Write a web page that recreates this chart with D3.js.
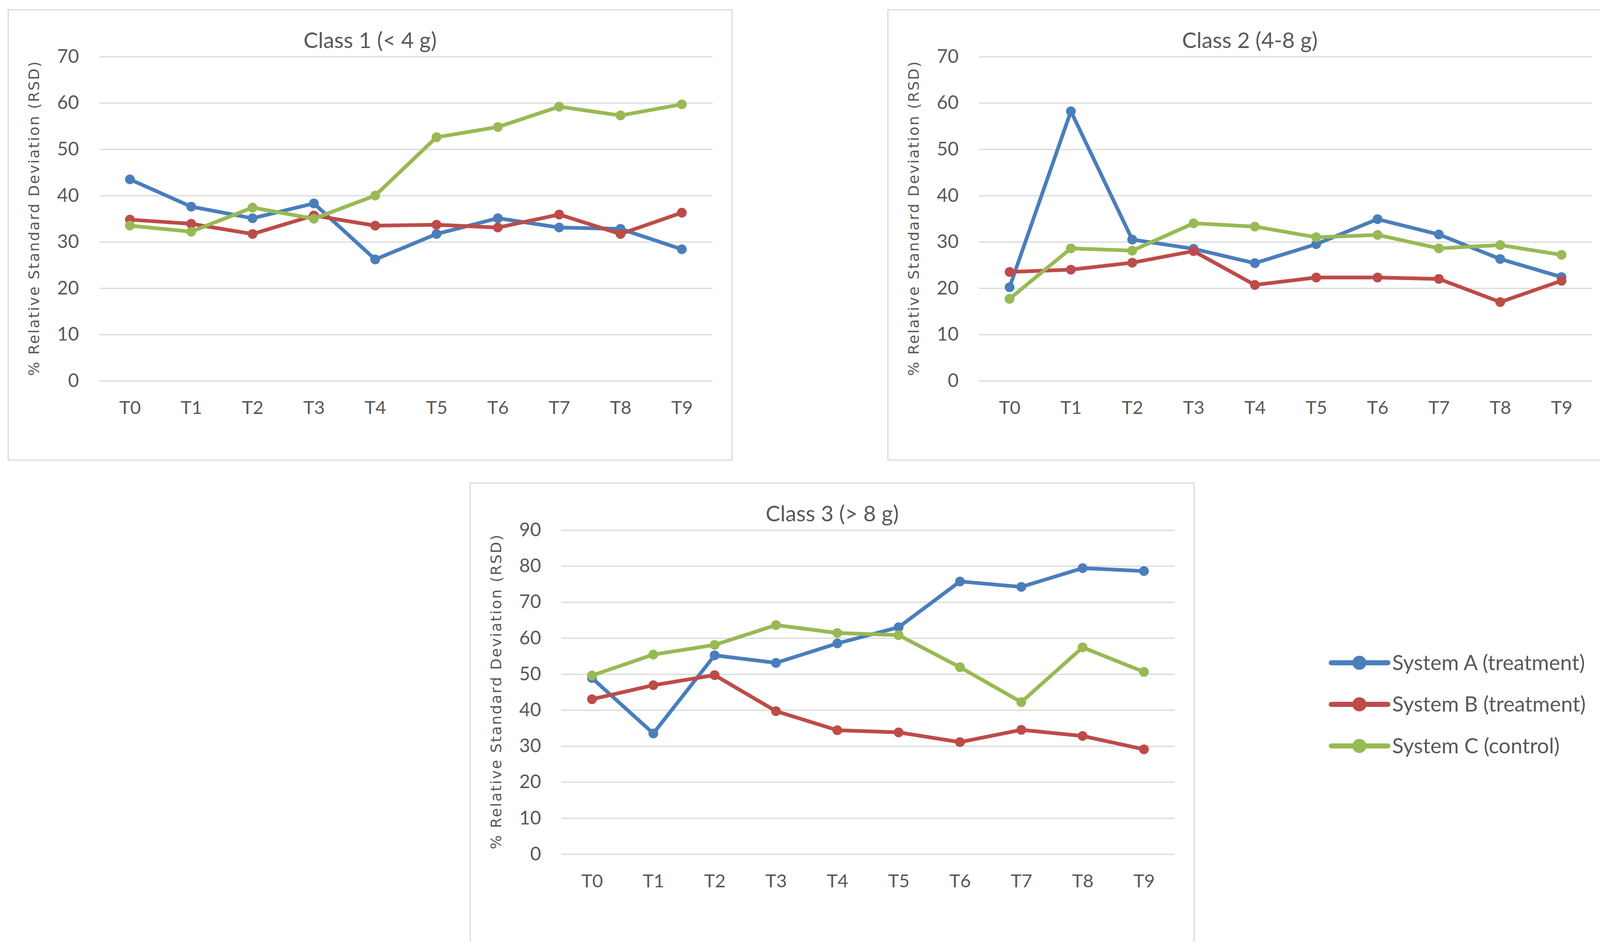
<!DOCTYPE html>
<html lang="en">
<head>
    <meta charset="UTF-8">
    <title>Relative Standard Deviation by Class</title>
    <style>
      body { margin: 0; background: #ffffff; }
      text { fill: #595959; }
    </style>
</head>
<body>
    <div id="my_dataviz"></div>
    <script src="https://d3js.org/d3.v7.min.js"></script>
    <script>
    // categories (time points)
    var timePoints = ["T0", "T1", "T2", "T3", "T4", "T5", "T6", "T7", "T8", "T9"];

    // series names
    var seriesNames = ["System A (treatment)", "System B (treatment)", "System C (control)"];

    // Class 1 (< 4 g)
    var class1A = [43.5, 37.6, 35.1, 38.3, 26.2, 31.7, 35.1, 33.1, 32.8, 28.4];
    var class1B = [34.8, 33.9, 31.7, 35.7, 33.5, 33.7, 33.1, 35.9, 31.7, 36.3];
    var class1C = [33.5, 32.2, 37.4, 35.0, 40.0, 52.6, 54.8, 59.2, 57.3, 59.7];

    // Class 2 (4-8 g)
    var class2A = [20.2, 58.2, 30.5, 28.5, 25.4, 29.5, 34.9, 31.6, 26.3, 22.4];
    var class2B = [23.5, 24.0, 25.5, 28.0, 20.7, 22.3, 22.3, 22.0, 17.0, 21.6];
    var class2C = [17.7, 28.6, 28.1, 34.0, 33.3, 31.0, 31.5, 28.6, 29.3, 27.2];

    // Class 3 (> 8 g)
    var class3A = [48.9, 33.5, 55.2, 53.1, 58.5, 63.0, 75.7, 74.2, 79.4, 78.6];
    var class3B = [43.0, 46.9, 49.7, 39.7, 34.4, 33.8, 31.1, 34.5, 32.8, 29.1];
    var class3C = [49.6, 55.4, 58.1, 63.6, 61.4, 60.8, 51.9, 42.2, 57.4, 50.6];

    var panelTitles = ["Class 1 (< 4 g)", "Class 2 (4-8 g)", "Class 3 (> 8 g)"];
    var yMaxValues = [70, 70, 90];
    var yAxisTitle = "% Relative Standard Deviation (RSD)";

    var colors = ["#4a7ebb", "#be4b48", "#98b954"];
    var tickFont = "Lato, 'Open Sans', sans-serif";
    var titleFont = "'DejaVu Sans', 'Open Sans', sans-serif";

    var W = 4160, H = 2412;
    var svg = d3.select("#my_dataviz")
      .append("svg")
        .attr("width", W)
        .attr("height", H);

    svg.append("rect").attr("width", W).attr("height", H).attr("fill", "#ffffff");

    // panel boxes (left, top of each chart frame)
    var panels = [
      {left: 21,   top: 25,   series: [class1A, class1B, class1C]},
      {left: 2273, top: 25,   series: [class2A, class2B, class2C]},
      {left: 1204, top: 1237, series: [class3A, class3B, class3C]}
    ];
    var frameW = 1853, frameH = 1153;
    var margin = {left: 233, top: 120};
    var plotW = 1570, plotH = 830;

    panels.forEach(function(p, i) {
      var g = svg.append("g")
          .attr("transform", "translate(" + p.left + "," + p.top + ")");

      // chart frame (third one runs off the bottom edge)
      g.append("rect")
          .attr("x", 0).attr("y", 0)
          .attr("width", frameW)
          .attr("height", i == 2 ? frameH + 100 : frameH)
          .attr("fill", "#ffffff")
          .attr("stroke", "#d9d9d9")
          .attr("stroke-width", 3);

      var plot = g.append("g")
          .attr("transform", "translate(" + margin.left + "," + margin.top + ")");

      var x = d3.scalePoint()
        .domain(timePoints)
        .range([0, plotW])
        .padding(0.5);

      var y = d3.scaleLinear()
        .domain([0, yMaxValues[i]])
        .range([plotH, 0]);

      // horizontal gridlines + y labels
      var yAxis = plot.append("g")
        .call(d3.axisLeft(y)
          .tickValues(d3.range(0, yMaxValues[i] + 1, 10))
          .tickSize(-plotW)
          .tickPadding(52));
      yAxis.select(".domain").remove();
      yAxis.selectAll(".tick line")
          .attr("stroke", "#d9d9d9")
          .attr("stroke-width", 3);
      yAxis.selectAll(".tick text")
          .attr("fill", "#595959")
          .style("font-family", tickFont)
          .style("font-size", "48px");

      // x labels
      var xAxis = plot.append("g")
        .attr("transform", "translate(0," + plotH + ")")
        .call(d3.axisBottom(x).tickSize(0).tickPadding(52));
      xAxis.select(".domain").remove();
      xAxis.selectAll(".tick text")
          .attr("fill", "#595959")
          .style("font-family", tickFont)
          .style("font-size", "47px");

      // chart title
      g.append("text")
          .attr("x", frameW / 2)
          .attr("y", 98)
          .attr("text-anchor", "middle")
          .style("font-family", tickFont)
          .style("font-size", "56px")
          .text(panelTitles[i]);

      // y axis title
      g.append("text")
          .attr("transform", "translate(66," + (margin.top + plotH / 2) + ") rotate(-90)")
          .attr("text-anchor", "middle")
          .attr("dy", "0.35em")
          .attr("textLength", 805)
          .attr("lengthAdjust", "spacing")
          .style("font-family", titleFont)
          .style("font-size", "38px")
          .text(yAxisTitle);

      // lines and markers
      var line = d3.line()
          .x(function(d, k) { return x(timePoints[k]); })
          .y(function(d) { return y(d); });

      p.series.forEach(function(values, s) {
        plot.append("path")
            .datum(values)
            .attr("d", line)
            .attr("fill", "none")
            .attr("stroke", colors[s])
            .attr("stroke-width", 9.5)
            .attr("stroke-linejoin", "round");
        plot.selectAll(".dot" + s)
            .data(values)
            .enter()
            .append("circle")
            .attr("cx", function(d, k) { return x(timePoints[k]); })
            .attr("cy", function(d) { return y(d); })
            .attr("r", 12.5)
            .attr("fill", colors[s]);
      });
    });

    // legend
    var legendY = d3.scalePoint().domain(seriesNames).range([1697, 1910]);
    var legend = svg.append("g");
    seriesNames.forEach(function(name, s) {
      var ly = legendY(name);
      legend.append("line")
          .attr("x1", 3408).attr("x2", 3553)
          .attr("y1", ly).attr("y2", ly)
          .attr("stroke", colors[s])
          .attr("stroke-width", 13)
          .attr("stroke-linecap", "round");
      legend.append("circle")
          .attr("cx", 3480).attr("cy", ly)
          .attr("r", 18)
          .attr("fill", colors[s]);
      legend.append("text")
          .attr("x", 3564).attr("y", ly)
          .attr("dy", "0.35em")
          .style("font-family", tickFont)
          .style("font-size", "54px")
          .text(name);
    });
    </script>
</body>
</html>
